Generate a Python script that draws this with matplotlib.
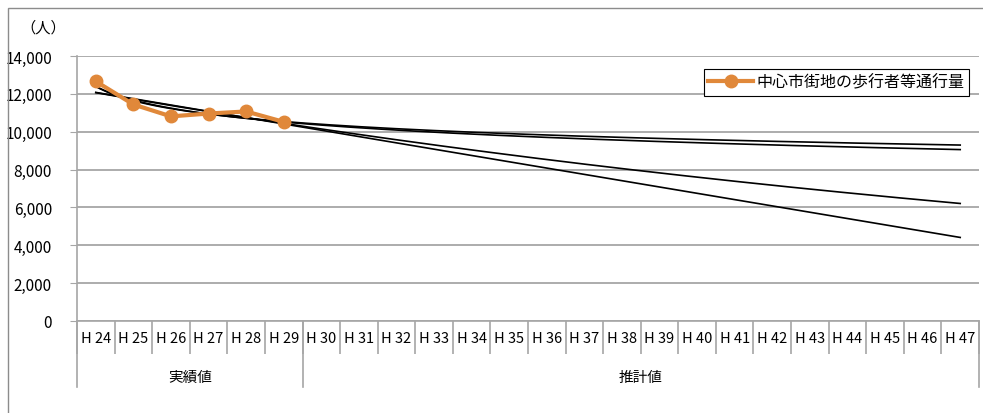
import matplotlib
matplotlib.use("Agg")
import matplotlib.pyplot as plt
import matplotlib.transforms as mtransforms
from matplotlib.patches import Rectangle
import numpy as np

plt.rcParams['font.family'] = ['Noto Sans CJK JP', 'DejaVu Sans']

# 年度（実績 H24-H29、推計 H30-H47）
years = ["H 24", "H 25", "H 26", "H 27", "H 28", "H 29", "H 30", "H 31",
         "H 32", "H 33", "H 34", "H 35", "H 36", "H 37", "H 38", "H 39",
         "H 40", "H 41", "H 42", "H 43", "H 44", "H 45", "H 46", "H 47"]
groups = ["実績値", "推計値"]
group_sizes = [6, 18]

# 中心市街地の歩行者等通行量（実績）
actual = [12660, 11440, 10810, 10960, 11070, 10520]
series_name = "中心市街地の歩行者等通行量"

W, H = 983, 414
fig = plt.figure(figsize=(W / 100, H / 100), dpi=100)
ax = fig.add_axes([77 / W, 1 - 322 / H, (979 - 77) / W, (322 - 57) / H])

grid_c = "#A6A6A6"
orange = "#E0883A"

# 近似曲線（線形・対数・指数・累乗）
n = len(years)
xa = np.arange(1, len(actual) + 1)
ya = np.array(actual, dtype=float)
xf = np.linspace(1, n, 200)
b1, a1 = np.polyfit(xa, ya, 1)
b2, a2 = np.polyfit(np.log(xa), ya, 1)
b3, a3 = np.polyfit(xa, np.log(ya), 1)
b4, a4 = np.polyfit(np.log(xa), np.log(ya), 1)
trends = [a1 + b1 * xf,
          a2 + b2 * np.log(xf),
          np.exp(a3 + b3 * xf),
          np.exp(a4 + b4 * np.log(xf))]
for t in trends:
    ax.plot(xf - 1, t, color="black", lw=1.2, zorder=3)

ax.plot(range(len(actual)), actual, color=orange, lw=3, marker="o",
        markersize=9, label=series_name, zorder=4)

ax.set_ylim(0, 14000)
ax.set_xlim(-0.5, n - 0.5)
ax.set_yticks(np.arange(0, 14001, 2000))
ax.set_yticklabels([f"{v:,}" for v in range(0, 14001, 2000)], fontsize=11)
ax.yaxis.grid(True, color=grid_c, lw=1.3)
ax.set_axisbelow(True)
ax.tick_params(axis="y", length=5, color=grid_c, pad=13)

for s in ["top", "right"]:
    ax.spines[s].set_visible(False)
ax.spines["left"].set_color(grid_c)
ax.spines["bottom"].set_color(grid_c)
ax.spines["left"].set_linewidth(1.2)
ax.spines["bottom"].set_linewidth(1.2)

# 区切り線（目盛）と年度ラベル
ax.set_xticks(np.arange(-0.5, n, 1))
ax.set_xticklabels([])
ax.tick_params(axis="x", which="major", length=24, color=grid_c, width=1.2)
ax.set_xticks(np.arange(n), minor=True)
ax.set_xticklabels(years, minor=True, fontsize=10.5)
ax.tick_params(axis="x", which="minor", length=0, pad=7)

# 実績値／推計値のグループ
ax_h = 322 - 57
trans = mtransforms.blended_transform_factory(ax.transData, ax.transAxes)
edges = np.concatenate([[0], np.cumsum(group_sizes)]) - 0.5
for e in edges:
    ax.plot([e, e], [0, -66 / ax_h], color=grid_c, lw=1.2,
            transform=trans, clip_on=False)
for g, lo, hi in zip(groups, edges[:-1], edges[1:]):
    ax.text((lo + hi) / 2, -56 / ax_h, g, transform=trans,
            ha="center", va="center", fontsize=10.5)

fig.text(20 / W, 1 - 28 / H, "（人）", fontsize=11, va="center", ha="left")

leg = ax.legend(loc="upper right", bbox_to_anchor=(969 / W, 1 - 70 / H),
                bbox_transform=fig.transFigure, fontsize=11.5, fancybox=False,
                framealpha=1, edgecolor="black", handlelength=2.8,
                borderpad=0.3, handletextpad=0.2, borderaxespad=0)
leg.get_frame().set_linewidth(0.8)

# グラフ外枠
fig.add_artist(Rectangle((8 / W, -0.1), 1.2, 1.1 - 8.5 / H,
                         transform=fig.transFigure, fill=False,
                         edgecolor="#8C8C8C", lw=1))

fig.savefig("out.png", dpi=100)
